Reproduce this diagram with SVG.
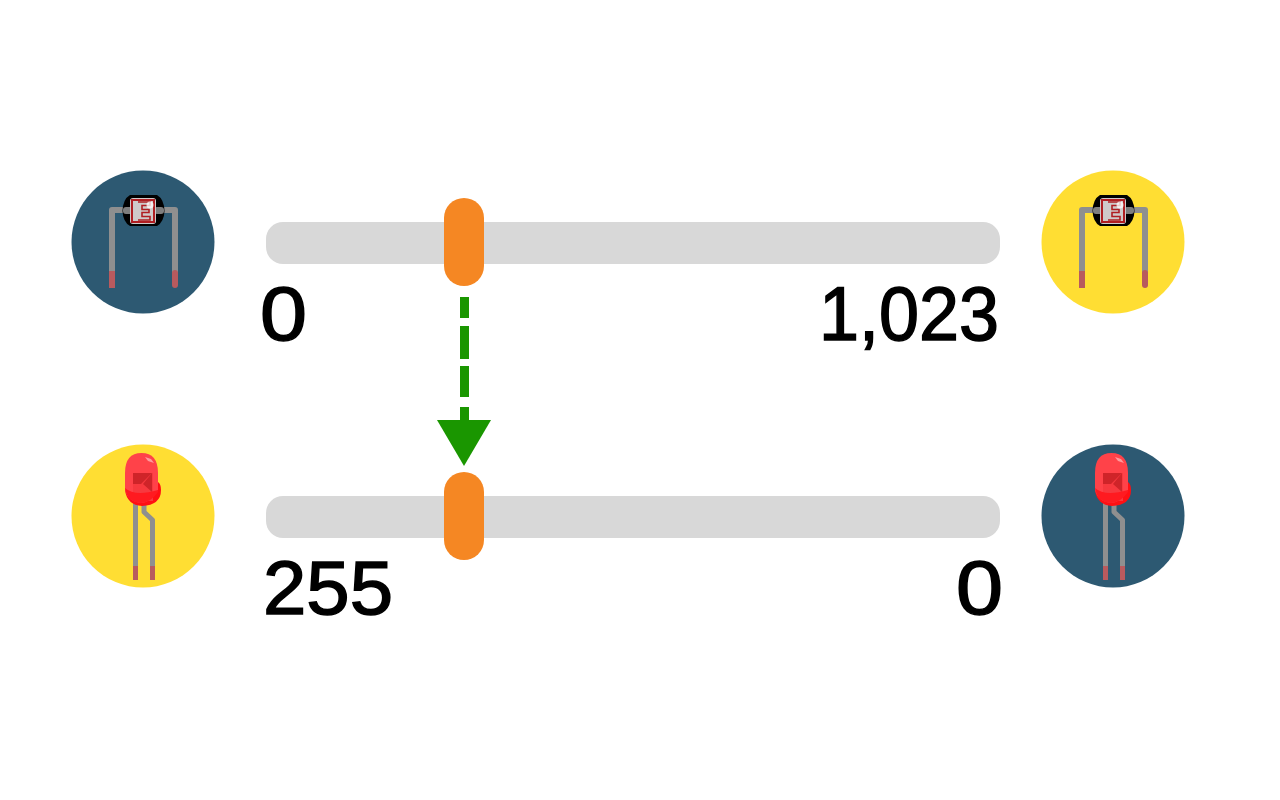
<svg xmlns="http://www.w3.org/2000/svg" width="1280" height="800" viewBox="0 0 1280 800">
<style>
.bar{fill:#d8d8d8}
.handle{fill:#f58723}
.blue{fill:#2d5972}
.yellow{fill:#ffde33}
.lead{fill:none;stroke:#8f8f8f;stroke-linejoin:round}
.tip{fill:#b85a5e}
text{font-family:"Liberation Sans",Arial,sans-serif;font-size:76px;fill:#000;stroke:#000;stroke-width:1.500px}
.link{fill:none;stroke:#1a9600;stroke-width:9;stroke-dasharray:21 8 33 7 31 10 30}
</style>
<defs>
<g id="ldr">
<path class="lead" stroke-width="6" d="M112 288V210H175V285"/>
<rect class="tip" x="109" y="271" width="6" height="17"/>
<path class="tip" d="M172 273a3 3 0 0 1 6 0V285a3 3 0 0 1-6 0Z"/>
<path d="M130 195H157Q164 199 164.500 211Q164 222 157 226H130Q123 222 122.500 211Q123 199 130 195Z" fill="#000"/>
<rect x="123" y="207" width="10" height="7" rx="3" fill="#7e7e7e"/>
<rect x="154" y="207" width="10" height="7" rx="3" fill="#7e7e7e"/>
<rect x="130" y="198" width="26" height="26" rx="3" fill="#cfcaca"/>
<path d="M138 202H150V205.500H142V209.500H149V212.500H142V216.500H150V220H138" fill="none" stroke="#b01e22" stroke-width="1.600"/>
<path d="M132 200H154V222H132Z" fill="none" stroke="#b01e22" stroke-width="2"/>
<circle cx="150" cy="205" r="3.500" fill="#fff" opacity=".75"/>
</g>
<g id="led">
<path class="lead" stroke-width="5" d="M135.500 502V580"/>
<path class="lead" stroke-width="5" d="M144 504V512L152.500 520V580"/>
<rect class="tip" x="133" y="566" width="5" height="14"/>
<rect class="tip" x="150" y="566" width="5" height="14"/>
<path d="M125 490Q127 505 142 506Q161 505 161 490Q161 484 158 482V490Z" fill="#ff0f13"/>
<path d="M125 473Q125 453 141.500 453Q158 453 158 473V490Q150 503 141.500 503Q128 502 125 490Z" fill="#ff4249"/>
<path d="M133 473H153V501H133Z" fill="#f7393f"/>
<path d="M133 473H152L141 484H133Z" fill="#cf2429"/>
<path d="M152 473V492L143 484Z" fill="#cf2429"/>
<path d="M145 457L151 459L154 463L148 461Z" fill="#ff9a9d"/>
<path d="M125 488Q135 497 158 490V492Q150 503 141 503Q127 502 125 488Z" fill="#ff1a20"/>
</g>
</defs>
<rect width="1280" height="800" fill="#fff"/>
<g id="slider-top">
<rect class="bar" x="266" y="222" width="734" height="42" rx="17"/>
<rect class="handle" x="444" y="198" width="40" height="88" rx="20"/>
</g>
<g id="slider-bottom">
<rect class="bar" x="266" y="496" width="734" height="42" rx="17"/>
<rect class="handle" x="444" y="472" width="40" height="88" rx="20"/>
</g>
<g id="icon-ldr-dark"><circle class="blue" cx="143" cy="242" r="71.500"/><use href="#ldr"/></g>
<g id="icon-ldr-bright"><circle class="yellow" cx="1113" cy="242" r="71.500"/><use href="#ldr" x="970"/></g>
<g id="icon-led-bright"><circle class="yellow" cx="143" cy="516" r="71.500"/><use href="#led"/></g>
<g id="icon-led-dark"><circle class="blue" cx="1113" cy="516" r="71.500"/><use href="#led" x="970"/></g>
<g id="labels">
<text x="260" y="340" textLength="47" lengthAdjust="spacingAndGlyphs">0</text>
<text x="819" y="340" textLength="180" lengthAdjust="spacingAndGlyphs">1,023</text>
<text x="263" y="614" textLength="130" lengthAdjust="spacingAndGlyphs">255</text>
<text x="956" y="614" textLength="47" lengthAdjust="spacingAndGlyphs">0</text>
</g>
<g id="connectors">
<path class="link" d="M464.500 297V420"/>
<path d="M437 420H491L464 466Z" fill="#1a9600"/>
</g>
</svg>
